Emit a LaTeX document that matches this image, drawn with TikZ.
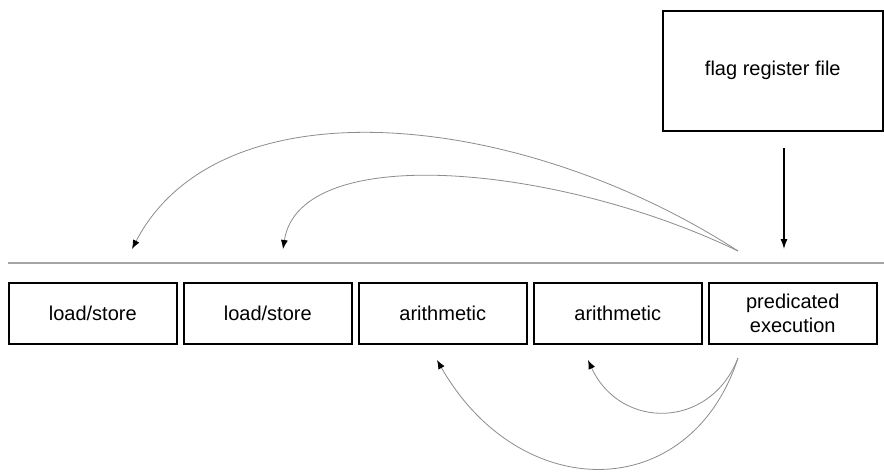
\documentclass[tikz,border=0pt]{standalone}
\usepackage{fontspec}
\setmainfont{Liberation Sans}
\usetikzlibrary{arrows.meta}
\definecolor{rulegray}{RGB}{165,165,165}
\definecolor{curvegray}{RGB}{140,140,140}
\begin{document}
\begin{tikzpicture}[x=1pt,y=-1pt,
  unitbox/.style={draw=black,line width=1.6pt,minimum width=168pt,minimum height=61pt,
    inner sep=0pt,align=center,font=\fontsize{20}{24}\selectfont,anchor=north west},
  flagbox/.style={draw=black,line width=1.6pt,minimum width=220pt,minimum height=120pt,
    inner sep=0pt,align=center,font=\fontsize{20}{24}\selectfont,anchor=north west},
  curvearrow/.style={draw=curvegray,line width=0.8pt,-{Latex[length=9pt,width=7pt,black]}},
  flagarrow/.style={draw=black,line width=1.2pt,-{Latex[length=10pt,width=7pt]}},
  ruleline/.style={draw=rulegray,line width=1.6pt}]
\useasboundingbox (0,0) rectangle (884,475);
\fill[white] (0,0) rectangle (884,475);

\node[flagbox] (flag) at (662,10) {flag register file};

\node[unitbox] (ls1) at (8,282) {load/store};
\node[unitbox] (ls2) at (183,282) {load/store};
\node[unitbox] (ar1) at (358,282) {arithmetic};
\node[unitbox] (ar2) at (533,282) {arithmetic};
\node[unitbox] (pe) at (708,282) {predicated\\execution};

\coordinate (railL) at (8,263);
\coordinate (railR) at (884,263);
\draw[ruleline] (railL) -- (railR);

\coordinate (flagtail) at (784,148);
\coordinate (flaghead) at (784,249);
\draw[flagarrow] (flagtail) -- (flaghead);

\coordinate (srcTop) at (738,251);
\coordinate (dstLs1) at (132,249);
\coordinate (dstLs2) at (283,249);
\draw[curvearrow] (srcTop) .. controls (520,110) and (220,80) .. (dstLs1);
\draw[curvearrow] (srcTop) .. controls (560,165) and (300,140) .. (dstLs2);

\coordinate (srcBot) at (738,358);
\coordinate (dstAr2) at (588,360);
\coordinate (dstAr1) at (437,360);
\draw[curvearrow] (srcBot) .. controls (710,430) and (620,430) .. (dstAr2);
\draw[curvearrow] (srcBot) .. controls (690,505) and (520,505) .. (dstAr1);
\end{tikzpicture}
\end{document}
